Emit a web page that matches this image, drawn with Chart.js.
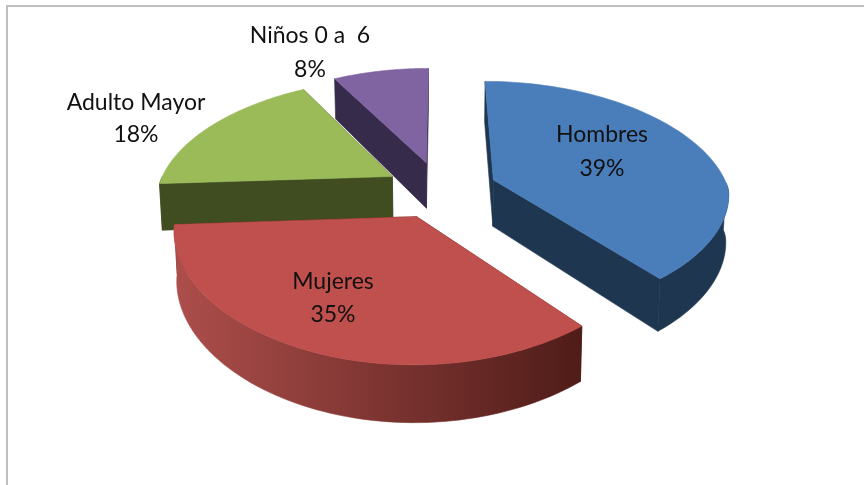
<!DOCTYPE html>
<html>
<head>
<meta charset="utf-8">
<script src="https://cdn.jsdelivr.net/npm/chart.js@4"></script>
<style>
    html, body { margin: 0; background: #fff; }
    canvas { display: block; }
</style>
</head>
<body>
<canvas id="chart" width="864" height="485"></canvas>
<script>
const categories = ["Hombres", "Mujeres", "Adulto Mayor", "Niños 0 a  6"];
const shares = [39, 35, 18, 8];

const topColors = ["#4a7ebb", "#c0504d", "#9bbb59", "#8064a2"];
// wall colour at the start and at the end of each slice, clockwise
const wallFrom = ["#1e3650", "#4f1c18", "#3f4d21", "#372b4b"];
const wallTo = ["#1e3650", "#ad4e4b", "#3f4d21", "#372b4b"];

// back to front
const drawOrder = [3, 2, 0, 1];
const labelLines = [[602, 135, 169], [333, 282, 315], [136, 103, 135], [310, 36, 70]];

// view of the pie plane
const CX = 440, CY = 189.5;
const PLANE_R = 235, SQUASH = 0.495, PERSP = 0.00065;
const PERSP_X_BACK = 0.0008, PERSP_X_FRONT = 0.00045;
const DEPTH = 47, TAPER = 0.01;

function project(u, v, down) {
    const f = 1 / (1 - PERSP * v);
    const fx = 1 / (1 - (v < 0 ? PERSP_X_BACK : PERSP_X_FRONT) * v);
    const x = CX + u * fx;
    return {
        x: CX + (x - CX) * (1 - down * TAPER),
        y: CY + v * SQUASH * f + down * DEPTH * f
    };
}

function fillPoly(ctx, pts, color) {
    ctx.beginPath();
    pts.forEach((p, i) => i ? ctx.lineTo(p.x, p.y) : ctx.moveTo(p.x, p.y));
    ctx.closePath();
    ctx.fillStyle = color;
    ctx.strokeStyle = color;
    ctx.lineWidth = 0.6;
    ctx.fill();
    ctx.stroke();
}

function drawSlice(ctx, arc, index) {
    const scale = PLANE_R / arc.outerRadius;
    const mid = (arc.startAngle + arc.endAngle) / 2;
    const off = arc.options.offset * scale;
    const ou = Math.cos(mid) * off, ov = Math.sin(mid) * off;
    const steps = 72;
    const rim = [];
    for (let i = 0; i <= steps; i++) {
        const a = arc.startAngle + (arc.endAngle - arc.startAngle) * i / steps;
        rim.push({ a, u: ou + Math.cos(a) * PLANE_R, v: ov + Math.sin(a) * PLANE_R });
    }
    const first = rim[0], last = rim[steps];

    // cut walls
    [first, last].forEach(r => {
        fillPoly(ctx, [
            project(ou, ov, 0), project(r.u, r.v, 0),
            project(r.u, r.v, 1), project(ou, ov, 1)
        ], wallFrom[index]);
    });

    // curved wall, only the part facing the viewer
    const front = rim.filter(r => Math.sin(r.a) >= 0);
    if (front.length > 1) {
        const a = project(front[0].u, front[0].v, 0);
        const b = project(front[front.length - 1].u, front[front.length - 1].v, 0);
        const shade = ctx.createLinearGradient(a.x, 0, b.x, 0);
        shade.addColorStop(0, wallFrom[index]);
        shade.addColorStop(1, wallTo[index]);
        fillPoly(ctx,
            front.map(r => project(r.u, r.v, 0))
                .concat(front.slice().reverse().map(r => project(r.u, r.v, 1))),
            shade);
    }

    // top face
    fillPoly(ctx, [project(ou, ov, 0)].concat(rim.map(r => project(r.u, r.v, 0))), topColors[index]);
}

const pie3d = {
    id: "pie3d",
    beforeDraw(chart) {
        const ctx = chart.ctx;
        ctx.save();
        ctx.strokeStyle = "#bfbfbf";
        ctx.lineWidth = 2;
        ctx.beginPath();
        ctx.moveTo(7, 485);
        ctx.lineTo(7, 6);
        ctx.lineTo(864, 6);
        ctx.stroke();
        ctx.restore();
    },
    beforeDatasetDraw(chart, args) {
        const ctx = chart.ctx;
        ctx.save();
        drawOrder.forEach(i => drawSlice(ctx, args.meta.data[i], i));
        ctx.restore();
        return false;
    },
    afterDatasetsDraw(chart) {
        const ctx = chart.ctx;
        const total = shares.reduce((a, b) => a + b, 0);
        ctx.save();
        ctx.fillStyle = "#111";
        ctx.font = "23px Lato";
        ctx.textAlign = "center";
        ctx.textBaseline = "middle";
        categories.forEach((name, i) => {
            const [x, y1, y2] = labelLines[i];
            ctx.fillText(name, x, y1);
            ctx.fillText(Math.round(shares[i] / total * 100) + "%", x, y2);
        });
        ctx.restore();
    }
};

new Chart(document.getElementById("chart").getContext("2d"), {
    type: "pie",
    data: {
        labels: categories,
        datasets: [{
            data: shares,
            backgroundColor: topColors,
            offset: [53, 53, 51, 53],
            borderWidth: 0
        }]
    },
    options: {
        responsive: false,
        animation: false,
        plugins: {
            legend: { display: false },
            tooltip: { enabled: false }
        }
    },
    plugins: [pie3d]
});
</script>
</body>
</html>
